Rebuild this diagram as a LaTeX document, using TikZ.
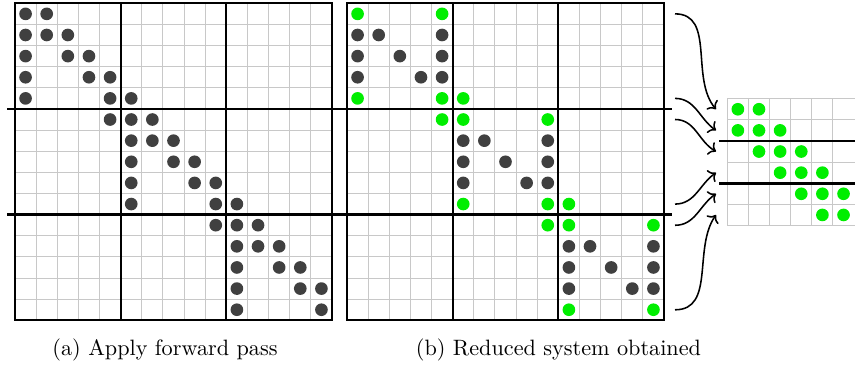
\documentclass[tikz,border=0pt]{standalone}
\usetikzlibrary{arrows.meta}
\definecolor{dotdark}{RGB}{64,64,64}
\definecolor{dotgreen}{RGB}{0,238,0}
\definecolor{gridgray}{RGB}{200,200,200}
\newcommand{\cs}{21.133}
% 15x15 block tridiagonal pattern with 3x3 block partition
\newcommand{\blockgrid}{%
  \foreach \i in {1,...,14} {
    \draw[gridline] ({\i*\cs},0) -- ({\i*\cs},{15*\cs});
    \draw[gridline] (0,{\i*\cs}) -- ({15*\cs},{\i*\cs});
  }
  \foreach \i in {5,10}
    \draw[frame] ({\i*\cs},0) -- ({\i*\cs},{15*\cs});
  \draw[frame] (0,0) rectangle ({15*\cs},{15*\cs});
  \foreach \i in {5,10}
    \draw[sepline] (-8,{\i*\cs}) -- ({15*\cs+8},{\i*\cs});
}
\begin{document}
\begin{tikzpicture}[x=0.45pt,y=-0.45pt,
  gridline/.style={draw=gridgray,line width=0.45pt},
  frame/.style={draw=black,line width=0.95pt},
  sepline/.style={draw=black,line width=1.3pt},
  dk/.style={fill=dotdark},
  gr/.style={fill=dotgreen},
  link/.style={draw=black,line width=0.7pt,-{To[length=3pt,width=6.5pt]}},
  caption/.style={inner sep=0pt}
]
\useasboundingbox (0,0) rectangle (855,366);

% (a) after the forward pass
\begin{scope}[shift={(15,3.3)}]
  \blockgrid
  \foreach \r/\c in {1/1,1/2,2/1,2/2,2/3,3/1,3/3,3/4,4/1,4/4,4/5,5/1,5/5,5/6,
    6/5,6/6,6/7,7/6,7/7,7/8,8/6,8/8,8/9,9/6,9/9,9/10,10/6,10/10,10/11,
    11/10,11/11,11/12,12/11,12/12,12/13,13/11,13/13,13/14,14/11,14/14,14/15,
    15/11,15/15}
    \fill[dk] ({(\c-0.5)*\cs},{(\r-0.5)*\cs}) circle[radius=2.85pt];
\end{scope}

% (b) rows of the reduced system highlighted
\begin{scope}[shift={(347,3.3)}]
  \blockgrid
  \foreach \r/\c in {2/1,2/2,2/5,3/1,3/3,3/5,4/1,4/4,4/5,
    7/6,7/7,7/10,8/6,8/8,8/10,9/6,9/9,9/10,
    12/11,12/12,12/15,13/11,13/13,13/15,14/11,14/14,14/15}
    \fill[dk] ({(\c-0.5)*\cs},{(\r-0.5)*\cs}) circle[radius=2.85pt];
  \foreach \r/\c in {1/1,1/5,5/1,5/5,5/6,6/5,6/6,6/10,
    10/6,10/10,10/11,11/10,11/11,11/15,15/11,15/15}
    \fill[gr] ({(\c-0.5)*\cs},{(\r-0.5)*\cs}) circle[radius=2.85pt];
\end{scope}

% reduced 6x6 tridiagonal system
\begin{scope}[shift={(727.3,98.7)}]
  \foreach \i in {0,...,5}
    \draw[gridline] ({\i*\cs},0) -- ({\i*\cs},{6*\cs});
  \foreach \i in {0,...,6}
    \draw[gridline] (0,{\i*\cs}) -- (128,{\i*\cs});
  \foreach \i in {2,4}
    \draw[sepline] (-8.3,{\i*\cs}) -- (128,{\i*\cs});
  \foreach \r/\c in {1/1,1/2,2/1,2/2,2/3,3/2,3/3,3/4,4/3,4/4,4/5,
    5/4,5/5,5/6,6/5,6/6}
    \fill[gr] ({(\c-0.5)*\cs},{(\r-0.5)*\cs}) circle[radius=2.85pt];
\end{scope}

% rows gathered into the reduced system
\foreach \k/\ys/\ye in {1/13.87/109.3, 2/98.4/130.4, 3/119.5/151.5,
                        4/204.1/172.7, 5/225.3/193.8, 6/309.8/214.9} {
  \coordinate (src\k) at (675,\ys);
  \coordinate (dst\k) at (716,\ye);
}
\foreach \k/\a in {1/130, 2/145, 3/150, 4/215, 5/215, 6/235}
  \draw[link] (src\k) to[out=0,in=\a] (dst\k);

\node[caption] (capa) at (165,349.5) {(a) Apply forward pass};
\node[caption] (capb) at (558.5,349.5) {(b) Reduced system obtained};
\end{tikzpicture}
\end{document}
